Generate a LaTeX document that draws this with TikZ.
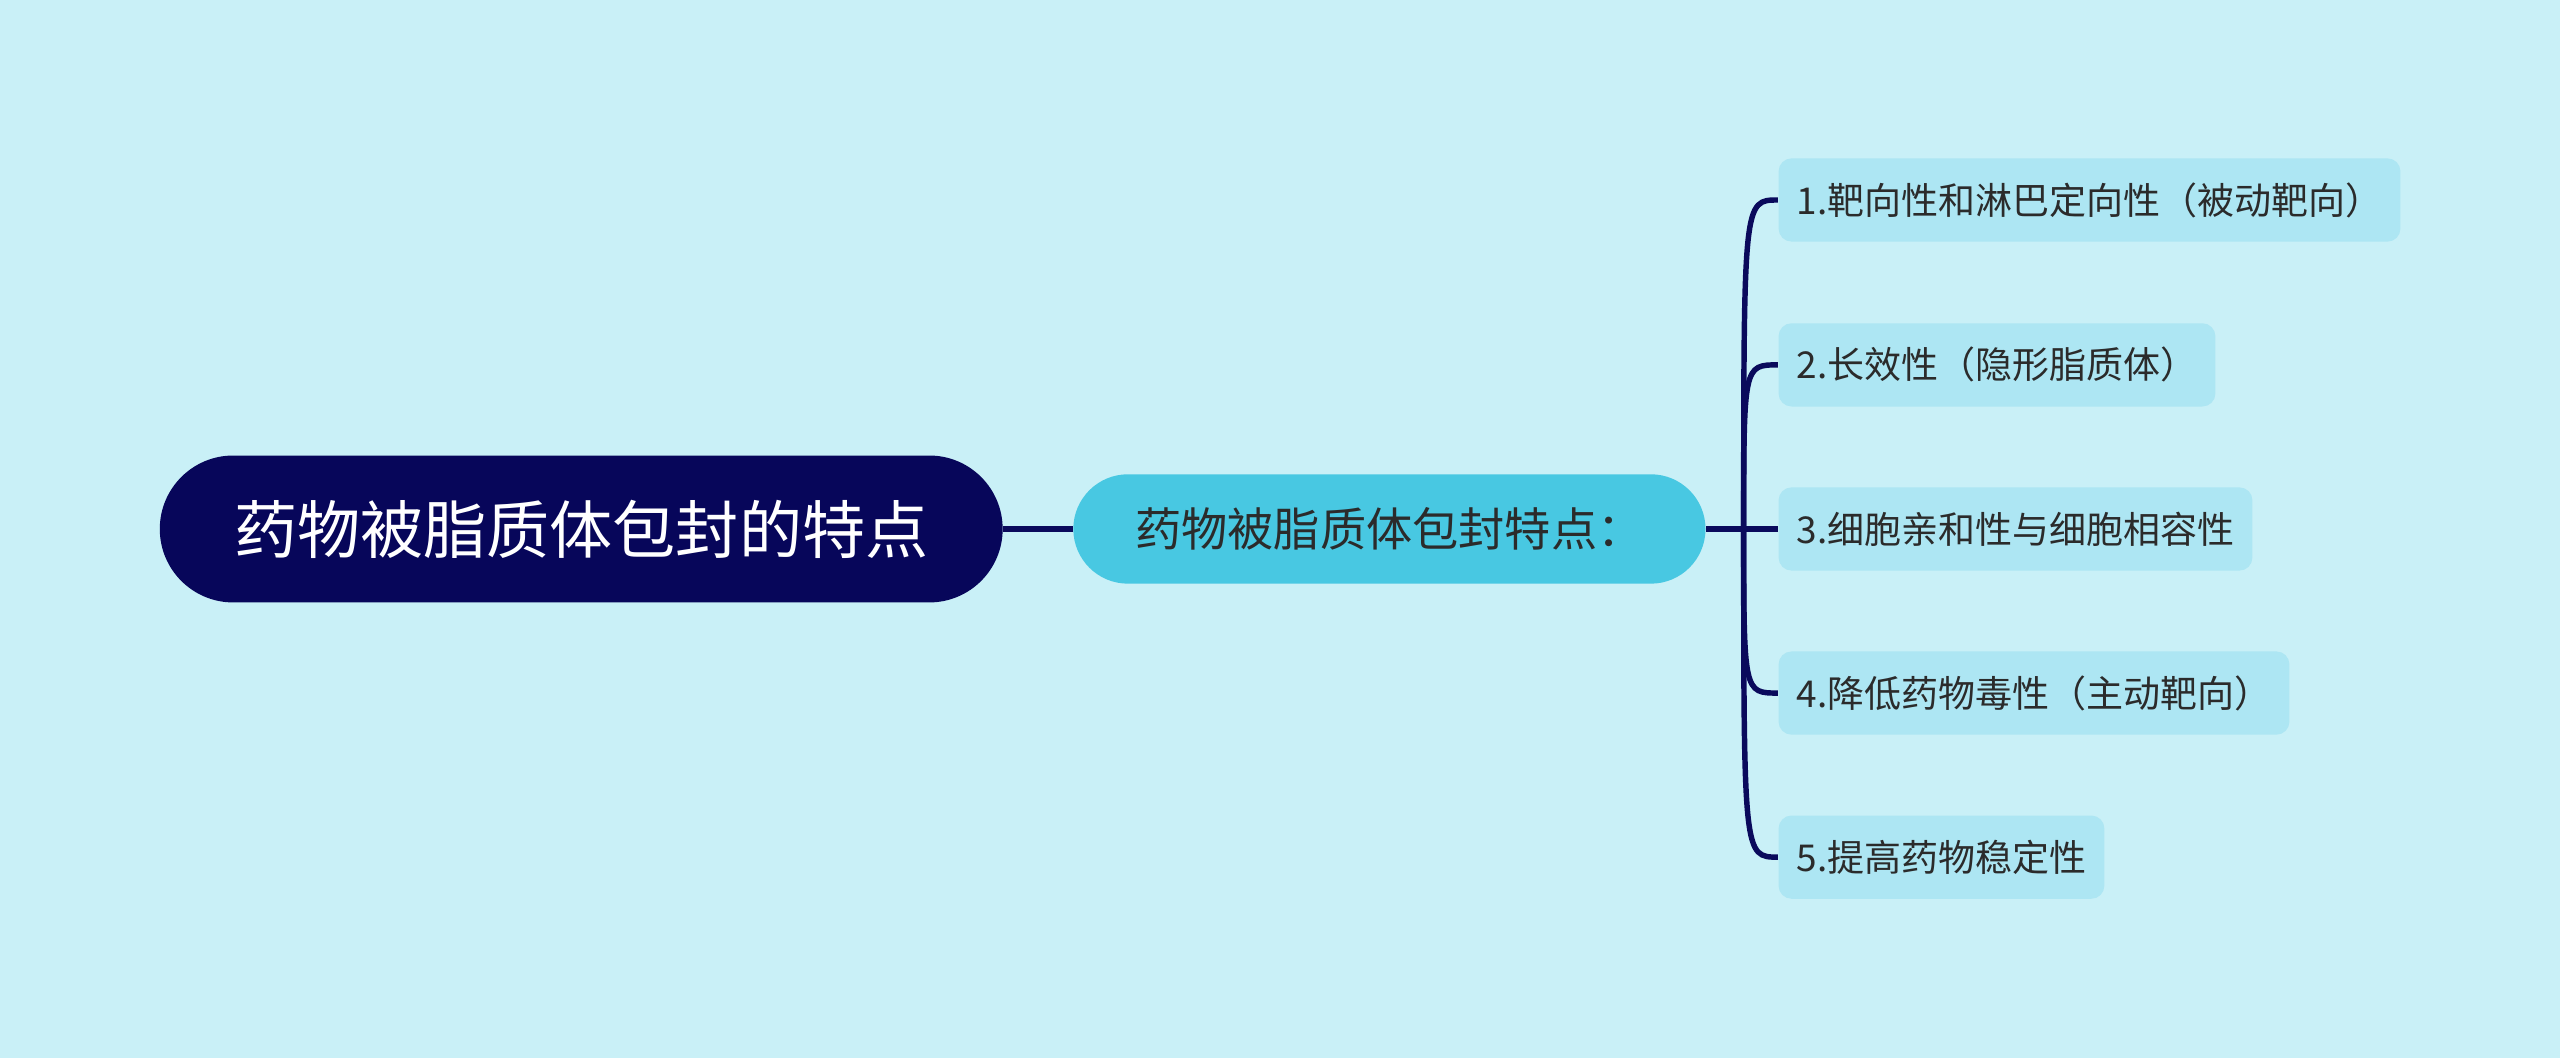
\documentclass[tikz,border=0pt]{standalone}
\usepackage{fontspec}
\newfontfamily\cjk{Noto Sans CJK SC}
\usetikzlibrary{calc}
\definecolor{bgcyan}{HTML}{C9F0F7}
\definecolor{rootnavy}{HTML}{07065A}
\definecolor{midcyan}{HTML}{48C8E2}
\definecolor{leafcyan}{HTML}{ADE6F3}
\definecolor{textgray}{HTML}{2B2B2B}
\definecolor{linenavy}{HTML}{0A0A5C}

\begin{document}
\begin{tikzpicture}[
        rootbox/.style = {fill = rootnavy, text = white, rounded corners = 0.9cm,
            minimum height = 1.8cm, inner xsep = 0.91cm,
            font = \cjk\fontsize{22}{26}\selectfont},
        midbox/.style = {fill = midcyan, text = textgray, rounded corners = 0.67cm,
            minimum height = 1.34cm, inner xsep = 0.76cm,
            font = \cjk\fontsize{16.1}{20}\selectfont},
        leafbox/.style = {fill = leafcyan, text = textgray, rounded corners = 0.16cm,
            minimum height = 1.02cm, inner xsep = 0.22cm, anchor = west,
            font = \cjk\fontsize{12.9}{16}\selectfont},
        link/.style = {draw = linenavy, line width = 1.9pt}
    ]
        \fill [bgcyan] (0, 0) rectangle (31.36, 12.96);
        \useasboundingbox (0, 0) rectangle (31.36, 12.96);

        \node [rootbox] (root) at (7.12, 6.48) {药物被脂质体包封的特点};
        \node [midbox] (mid) at (17.02, 6.48) {药物被脂质体包封特点：};

        \node [leafbox] (lf1) at (21.78, 10.51) {1.靶向性和淋巴定向性（被动靶向）};
        \node [leafbox] (lf2) at (21.78, 8.49) {2.长效性（隐形脂质体）};
        \node [leafbox] (lf3) at (21.78, 6.48) {3.细胞亲和性与细胞相容性};
        \node [leafbox] (lf4) at (21.78, 4.47) {4.降低药物毒性（主动靶向）};
        \node [leafbox] (lf5) at (21.78, 2.46) {5.提高药物稳定性};

        \coordinate (fork) at (21.36, 6.48);

        \draw [link] (root.east) -- (mid.west);
        \draw [link] (mid.east) -- (lf3.west);
        \foreach \k in {1, 2, 4, 5}
            \draw [link] (fork) .. controls (fork |- lf\k.west) .. (lf\k.west);
      \end{tikzpicture}
\end{document}
